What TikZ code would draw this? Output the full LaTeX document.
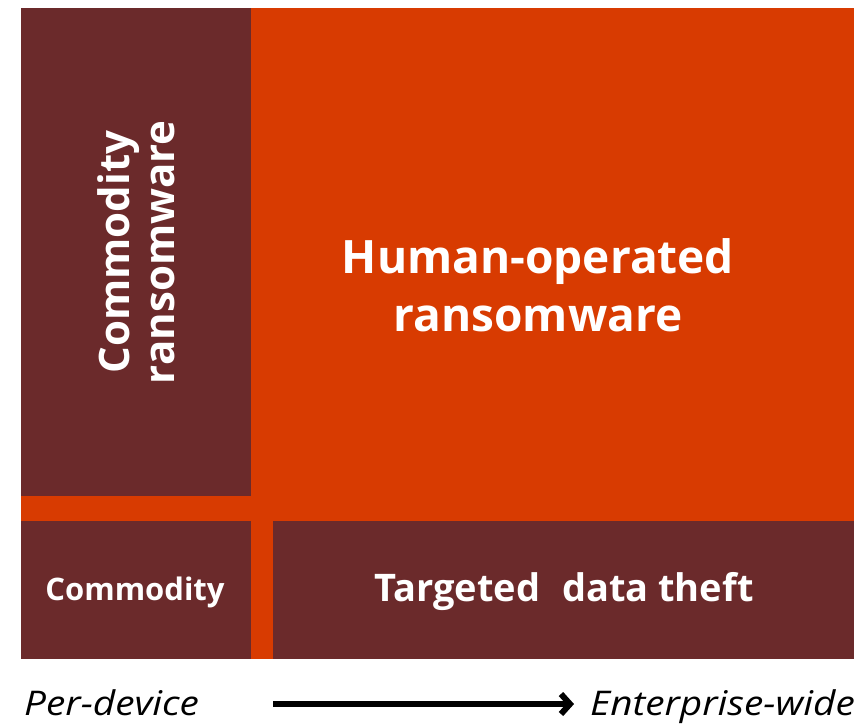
\documentclass[tikz,border=0pt]{standalone}
\usepackage{fontspec}
\setmainfont{Open Sans}
\newfontfamily\axisfont[FakeStretch=1.14]{Open Sans}
\usetikzlibrary{arrows.meta}
\definecolor{darkred}{HTML}{6B2A2B}
\definecolor{msorange}{HTML}{D83B01}
\begin{document}
\begin{tikzpicture}[x=1pt,y=-1pt,
  block/.style={fill=darkred, draw=none, inner sep=0pt, anchor=north west},
  label/.style={text=white, font=\bfseries, inner sep=0pt, align=center},
  axis/.style={text=black, font=\axisfont\itshape\fontsize{34}{40}\selectfont, inner sep=0pt}]
\useasboundingbox (0,0) rectangle (866,724);
\fill[white] (0,0) rectangle (866,724);
\node[fill=msorange, draw=none, inner sep=0pt, anchor=north west, minimum width=833pt, minimum height=651pt] (bg) at (21,8) {};
\node[block, minimum width=230pt, minimum height=488pt] (cr) at (21,8) {};
\node[block, minimum width=230pt, minimum height=138pt] (cm) at (21,521) {};
\node[block, minimum width=581pt, minimum height=138pt] (td) at (273,521) {};
\node[label, rotate=90, font=\bfseries\fontsize{42}{45}\selectfont] (crt) at (cr.center) {Commodity\\ransomware};
\node[label, font=\bfseries\fontsize{46}{58}\selectfont] (hor) at (538,285) {Human-operated\\ransomware};
\node[label, font=\bfseries\fontsize{31}{36}\selectfont] (cmt) at (135,592) {Commodity};
\node[label, font=\bfseries\fontsize{38}{45}\selectfont] (tdt) at (564,592) {Targeted\hspace{12pt} data theft};
\node[axis, anchor=base west] (pd) at (24,715) {Per-device};
\node[axis, anchor=base east] (ew) at (855,715) {Enterprise-wide};
\coordinate (a1) at (273,704);
\coordinate (a2) at (574,704);
\draw[line width=6pt, -{Straight Barb[length=9pt,width=20pt]}] (a1) -- (a2);
\end{tikzpicture}
\end{document}
